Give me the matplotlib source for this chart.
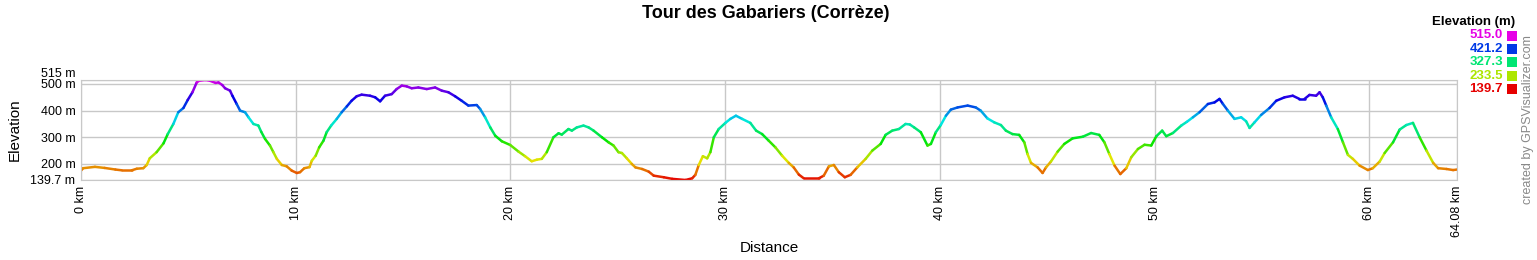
import matplotlib
matplotlib.use("Agg")
import matplotlib.pyplot as plt
import numpy as np
from matplotlib.collections import LineCollection
from matplotlib.colors import hsv_to_rgb
from matplotlib.patches import Rectangle

plt.rcParams['font.family'] = ['Liberation Sans', 'DejaVu Sans']

# distance (km) / elevation (m)
dist = [0, 0.1, 0.65, 1.1, 1.6, 1.9, 2.36, 2.6, 2.9, 3.06, 3.2, 3.52, 3.84, 4.04,
        4.3, 4.53, 4.77, 4.97, 5.19, 5.39, 5.5, 5.8, 6.01, 6.27, 6.4, 6.58, 6.71,
        6.94, 7.05, 7.25, 7.41, 7.64, 7.8, 8.03, 8.26, 8.39, 8.57, 8.8, 8.96, 9.12,
        9.35, 9.58, 9.81, 10.05, 10.2, 10.4, 10.64, 10.75, 10.93, 11.09, 11.29,
        11.44, 11.65, 11.91, 12.14, 12.38, 12.6, 12.84, 13.07, 13.46, 13.7, 13.93,
        14.16, 14.47, 14.7, 14.94, 15.17, 15.4, 15.71, 16.1, 16.49, 16.8, 17.11,
        17.42, 17.73, 18.04, 18.43, 18.59, 18.82, 19.06, 19.29, 19.6, 19.99, 20.38,
        20.68, 20.99, 21.23, 21.46, 21.69, 22.0, 22.24, 22.39, 22.7, 22.86, 23.09,
        23.4, 23.64, 23.87, 24.26, 24.57, 24.8, 25.03, 25.19, 25.42, 25.65, 25.82,
        26.13, 26.44, 26.67, 27.14, 27.53, 28.15, 28.46, 28.61, 28.77, 28.96, 29.16,
        29.31, 29.47, 29.7, 30.01, 30.24, 30.5, 30.79, 31.17, 31.44, 31.72, 32.03,
        32.34, 32.65, 32.96, 33.19, 33.43, 33.66, 34.36, 34.59, 34.83, 35.06, 35.29,
        35.57, 35.84, 36.15, 36.54, 36.85, 37.24, 37.47, 37.78, 38.09, 38.4, 38.6,
        38.8, 39.11, 39.42, 39.58, 39.81, 40.04, 40.28, 40.51, 40.82, 41.29, 41.67,
        41.9, 42.21, 42.53, 42.84, 43.07, 43.38, 43.69, 43.93, 44.08, 44.24, 44.55,
        44.78, 44.94, 45.17, 45.48, 45.79, 46.18, 46.65, 47.04, 47.42, 47.66, 47.89,
        48.13, 48.4, 48.68, 48.91, 49.22, 49.53, 49.84, 50.08, 50.35, 50.54, 50.85,
        51.24, 51.5, 51.78, 52.09, 52.48, 52.79, 53.02, 53.18, 53.41, 53.72, 54.03,
        54.26, 54.42, 54.65, 54.96, 55.35, 55.66, 56.05, 56.43, 56.74, 56.98, 57.21,
        57.52, 57.68, 57.83, 57.99, 58.22, 58.53, 58.77, 59.0, 59.23, 59.54, 59.93,
        60.16, 60.48, 60.71, 61.1, 61.41, 61.72, 62.03, 62.34, 62.66, 62.97, 63.2,
        63.59, 63.9, 64.08]
elev = [175, 184, 189, 185, 179, 176, 176, 182, 184, 196, 221, 244, 277, 312,
        350, 394, 410, 440, 469, 506, 512, 515, 512, 504, 506, 496, 484,
        475, 456, 425, 400, 394, 375, 350, 344, 321, 294, 269, 244, 219,
        196, 191, 175, 166, 169, 184, 188, 212, 231, 262, 287,
        319, 344, 369, 394, 416, 437, 454, 460, 456, 450, 435,
        456, 462, 481, 494, 491, 484, 487, 481, 487, 475, 469,
        454, 437, 419, 421, 406, 375, 337, 306, 285, 271, 246,
        229, 210, 216, 219, 244, 300, 315, 310, 331, 325, 337,
        344, 337, 325, 300, 281, 269, 244, 241, 221, 200, 187,
        181, 171, 156, 150, 144, 139.7, 146, 159, 196, 229, 221,
        244, 300, 331, 354, 369, 381, 369, 354, 325, 312, 287,
        262, 231, 204, 187, 160, 146, 146, 156, 191, 196, 169,
        150, 159, 187, 219, 250, 275, 309, 325, 331, 350, 348,
        337, 319, 269, 275, 319, 346, 381, 404, 412, 419, 412,
        400, 371, 356, 346, 325, 312, 309, 281, 237, 204, 187,
        166, 187, 209, 246, 275, 296, 302, 316, 309, 281, 237,
        194, 162, 184, 225, 256, 272, 269, 304, 325, 304, 316,
        344, 358, 375, 394, 425, 431, 444, 425, 400, 369, 375,
        360, 335, 356, 384, 410, 437, 450, 456, 444, 444, 459,
        456, 469, 450, 419, 375, 331, 281, 234, 219, 194, 177,
        184, 209, 241, 281, 329, 346, 354, 300, 250, 204, 184,
        181, 177, 179]

y_ticks = [139.7, 200, 300, 400, 500, 515]
y_labels = ['139.7 m', '200 m', '300 m', '400 m', '500 m', '515 m']
x_ticks = [0, 10, 20, 30, 40, 50, 60, 64.08]
x_labels = ['0 km', '10 km', '20 km', '30 km', '40 km', '50 km', '60 km', '64.08 km']
legend_values = [515.0, 421.2, 327.3, 233.5, 139.7]

emin, emax = 139.7, 515.0


def elev_color(e):
    # red at the lowest point, through the hues, to magenta at the top
    h = 300.0 / 360.0 * (e - emin) / (emax - emin)
    return hsv_to_rgb([h, 1.0, 0.9])


fig = plt.figure(figsize=(15.37, 2.6), dpi=100)
ax = fig.add_axes([81 / 1537, 1 - 180 / 260, (1457 - 81) / 1537, 100 / 260])

x = np.array(dist)
y = np.array(elev, dtype=float)
pts = np.column_stack([x, y]).reshape(-1, 1, 2)
segs = np.concatenate([pts[:-1], pts[1:]], axis=1)
cols = [elev_color((a + b) / 2) for a, b in zip(y[:-1], y[1:])]
lc = LineCollection(segs, colors=cols, linewidths=1.8, capstyle='round', joinstyle='round')
ax.add_collection(lc)

ax.set_xlim(0, 64.08)
ax.set_ylim(emin, emax)

ax.set_yticks(y_ticks)
ax.set_yticklabels(y_labels, fontsize=9)
ax.set_xticks(x_ticks)
ax.set_xticklabels(x_labels, fontsize=9, rotation=90)
ax.tick_params(length=0, pad=4)
for lab in ax.get_yticklabels():
    if lab.get_text() == '515 m':
        lab.set_verticalalignment('bottom')

ax.grid(True, color='#c8c8c8', linewidth=1)
ax.set_axisbelow(True)
for s in ax.spines.values():
    s.set_color('#c8c8c8')

ax.set_xlabel('Distance', fontsize=11, labelpad=3)
ax.set_ylabel('Elevation', fontsize=11, labelpad=6)

fig.text(766 / 1537, 1 - 14 / 260, 'Tour des Gabariers (Corrèze)', fontsize=13,
         fontweight='bold', ha='center', va='center')

# legend at top right
fig.text(1515 / 1537, 1 - 22 / 260, 'Elevation (m)', fontsize=9.5, fontweight='bold',
         ha='right', va='center')
for i, v in enumerate(legend_values):
    yc = 35.5 + i * 13.4
    c = elev_color(v)
    fig.text(1503 / 1537, 1 - yc / 260, f'{v:.1f}', fontsize=9.5, fontweight='bold',
             color=c, ha='right', va='center')
    fig.patches.append(Rectangle((1507 / 1537, 1 - (yc + 5) / 260), 10 / 1537, 10 / 260,
                                 transform=fig.transFigure, facecolor=c, edgecolor='none'))

fig.text(1528 / 1537, 1 - 120 / 260, 'created by GPSVisualizer.com', fontsize=9,
         color='#888888', rotation=90, ha='center', va='center')

fig.savefig('out.png', dpi=100)
